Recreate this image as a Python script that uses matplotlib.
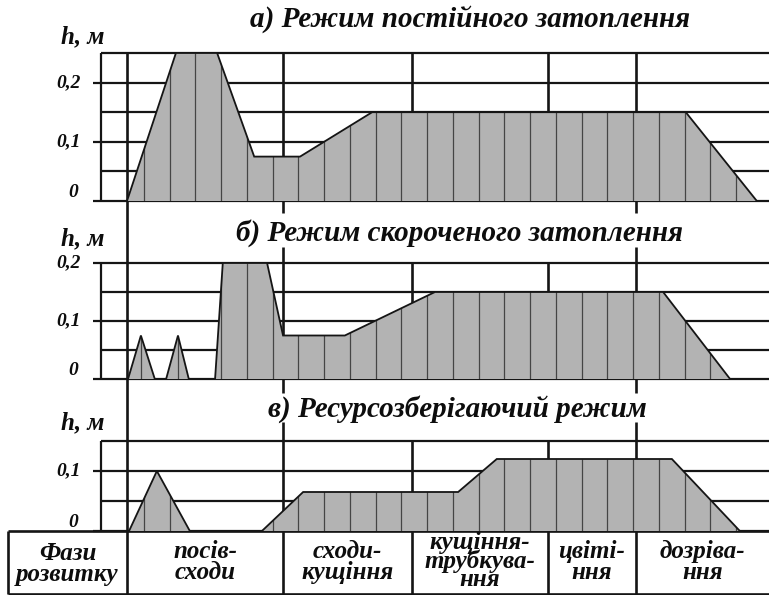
import numpy as np
import matplotlib
matplotlib.use("Agg")
import matplotlib.pyplot as plt
from matplotlib.patches import Polygon

# ---------------------------------------------------------------------------
# Water layer depth h (m) on a rice paddy over the growing season.
# Time axis: days from sowing.
# ---------------------------------------------------------------------------
phase_bounds = [0, 30.3, 55.3, 81.7, 98.8]
phase_names = ["посів-\nсходи", "сходи-\nкущіння", "кущіння-\nтрубкува-\nння",
               "цвіті-\nння", "дозріва-\nння"]
phase_header = "Фази\nрозвитку"

titles = ["а) Режим постійного затоплення",
          "б) Режим скороченого затоплення",
          "в) Ресурсозберігаючий режим"]

# а) permanent flooding
days_a = [0, 9.5, 17.5, 24.7, 33.6, 47.6, 108.5, 122.3]
h_a = [0, 0.25, 0.25, 0.075, 0.075, 0.15, 0.15, 0]

# б) shortened flooding: two short flushes, then the main flooding
days_b1 = [0.2, 2.7, 5.4]
h_b1 = [0, 0.075, 0]
days_b2 = [7.6, 9.9, 12.0]
h_b2 = [0, 0.075, 0]
days_b3 = [17.1, 18.6, 27.2, 30.3, 42.3, 59.8, 104.1, 117.1]
h_b3 = [0, 0.2, 0.2, 0.075, 0.075, 0.15, 0.15, 0]

# в) resource-saving regime
days_c1 = [0.4, 5.8, 12.2]
h_c1 = [0, 0.1, 0]
days_c2 = [26.2, 34.2, 64.3, 71.8, 105.8, 119.0]
h_c2 = [0, 0.065, 0.065, 0.12, 0.12, 0]

# y scales of the three panels
ymax_a, ymax_b, ymax_c = 0.25, 0.2, 0.15
yticks_a = [0, 0.1, 0.2]
yticks_b = [0, 0.1, 0.2]
yticks_c = [0, 0.1]
tick_text = {0: "0", 0.1: "0,1", 0.2: "0,2"}

# ---------------------------------------------------------------------------
W, H = 769, 595
fig = plt.figure(figsize=(W / 100, H / 100), dpi=100)
fig.patch.set_facecolor("white")

X0, X1 = -24.66, 124.66      # days visible across the sheet
AXIS_X = -5.0                # position of the h axis
TICK_X = -6.6                # left end of tick marks
TABLE_X = -23.1              # left border of the phase table

INK = "#151515"
FILL = "#b3b3b3"
STRIPE = "#454545"
FONT = dict(family="Liberation Serif", weight="bold", style="italic", color="#0d0d0d")

# hatch stripes every 5 days
stripe_grid = np.arange(3.3, 123, 5.0)


def panel(top, bottom, ymax):
    ax = fig.add_axes([0, 1 - bottom / H, 1, (bottom - top) / H])
    ax.set_xlim(X0, X1)
    ax.set_ylim(0, ymax)
    ax.set_facecolor("none")
    ax.axis("off")
    ax.set_zorder(2)
    return ax


def grid(ax, ymax, ticks):
    for y in np.arange(0, ymax + 1e-9, 0.05):
        ax.hlines(y, AXIS_X, X1, color=INK, lw=1.6, zorder=1, clip_on=False)
    for y in ticks:
        ax.hlines(y, TICK_X, AXIS_X, color=INK, lw=1.6, zorder=1, clip_on=False)
    ax.vlines(AXIS_X, 0, ymax, color=INK, lw=1.6, zorder=1, clip_on=False)
    for xb in phase_bounds[2:4]:
        ax.vlines(xb, 0, ymax, color=INK, lw=1.9, zorder=1, clip_on=False)


def tick_labels(ax, ticks):
    for y in ticks:
        if y == 0:
            ax.text(-10.5, y, tick_text[y], ha="center", va="bottom", fontsize=14,
                    clip_on=False, **FONT)
        else:
            ax.text(-11.3, y, tick_text[y], ha="center", va="center", fontsize=14,
                    clip_on=False, **FONT)


def flood(ax, days, h, stripes):
    pts = np.column_stack([days, h])
    poly = Polygon(pts, closed=True, facecolor=FILL, edgecolor="none", zorder=2)
    ax.add_patch(poly)
    inside = [s for s in stripes if days[0] < s < days[-1]]
    if inside:
        vl = ax.vlines(inside, 0, max(h), color=STRIPE, lw=0.9, zorder=3)
        vl.set_clip_path(poly)
    ax.plot(days, h, color=INK, lw=1.3, zorder=4, solid_joinstyle="miter")


# frame for long separators, titles and the phase table (y in sheet units, top = 0)
frame = fig.add_axes([0, 0, 1, 1])
frame.set_xlim(X0, X1)
frame.set_ylim(H, 0)
frame.axis("off")
frame.set_zorder(1)

# panels
ax_a = panel(53, 201, ymax_a)
grid(ax_a, ymax_a, yticks_a)
tick_labels(ax_a, yticks_a)
flood(ax_a, days_a, h_a, stripe_grid)

ax_b = panel(263, 379, ymax_b)
grid(ax_b, ymax_b, yticks_b)
tick_labels(ax_b, yticks_b)
flood(ax_b, days_b1, h_b1, [days_b1[1]])
flood(ax_b, days_b2, h_b2, [days_b2[1]])
flood(ax_b, days_b3, h_b3, stripe_grid)

ax_c = panel(441, 531, ymax_c)
grid(ax_c, ymax_c, yticks_c)
tick_labels(ax_c, yticks_c)
flood(ax_c, days_c1, h_c1, stripe_grid)
flood(ax_c, days_c2, h_c2, stripe_grid)

# long phase separators crossing all panels (broken around the titles)
frame.vlines(phase_bounds[0], 53, 594, color=INK, lw=1.9)
for xb in (phase_bounds[1], phase_bounds[4]):
    for y0, y1 in ((53, 213), (247, 393), (422, 594)):
        frame.vlines(xb, y0, y1, color=INK, lw=1.9)
# table borders and inner separators
frame.hlines([531, 594], TABLE_X, X1, color=INK, lw=1.9)
frame.vlines(TABLE_X, 531, 594, color=INK, lw=1.9)
for xb in phase_bounds[2:4]:
    frame.vlines(xb, 531, 594, color=INK, lw=1.9)

# titles
for title, xc, yc in zip(titles, (66.6, 64.5, 64.1), (19, 233, 409)):
    frame.text(xc, yc, title, ha="center", va="center", fontsize=21, **FONT)
# axis captions
for yc in (37, 239, 423):
    frame.text(-8.5, yc, "h, м", ha="center", va="center", fontsize=18, **FONT)

# phase table
frame.text((TABLE_X + phase_bounds[0]) / 2, 564, phase_header, ha="center",
           va="center", fontsize=18, linespacing=0.9, **FONT)
edges = phase_bounds + [X1]
for i, name in enumerate(phase_names):
    xc = (edges[i] + edges[i + 1]) / 2
    nlines = name.count("\n") + 1
    frame.text(xc, 562 if nlines == 2 else 561, name, ha="center", va="center",
               fontsize=18, linespacing=0.9 if nlines == 2 else 0.72, **FONT)

fig.savefig("out.png", dpi=100, facecolor="white")
